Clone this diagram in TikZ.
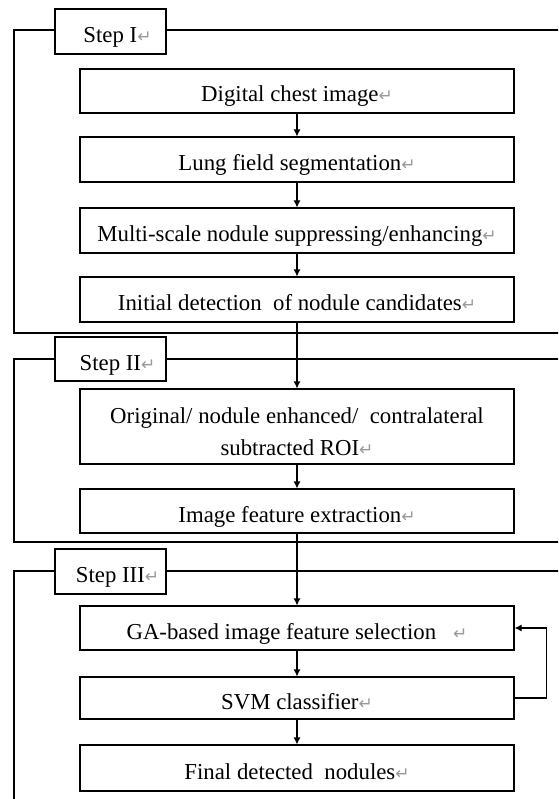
\documentclass[tikz,border=0pt]{standalone}
\usepackage{fontspec}
\setmainfont{Liberation Serif}
\newfontfamily\marksfont{DejaVu Sans}
\usetikzlibrary{arrows.meta}
% paragraph mark shown after each label
\newcommand\pmark{{\marksfont\color{black!40}\fontsize{17}{17}\selectfont\char"21B5}}
\begin{document}
\begin{tikzpicture}[x=1pt,y=-1pt,line width=1.1pt,
  lbl/.style={font=\fontsize{22.8}{32}\selectfont, inner sep=0pt},
  box/.style={lbl, draw, fill=white, minimum width=434pt, minimum height=45pt,
    text height=22pt, text depth=0pt},
  stepbox/.style={lbl, draw, fill=white, minimum width=111pt, minimum height=45pt,
    text height=22pt, text depth=0pt},
  flow/.style={-{Latex[length=7pt,width=7pt]}}]
\useasboundingbox (0,0) rectangle (558,799);

% frames of the three steps, open towards the right edge
\begin{scope}
  \clip (0,0) rectangle (558,799);
  \draw (14,30) rectangle (600,333);
  \draw (14,359) rectangle (600,542);
  \draw (14,571) rectangle (600,850);
\end{scope}

% step headings
\node[stepbox] (s1) at (110.5,31.5) {\hspace*{14pt}Step I\pmark};
\node[stepbox, minimum height=44pt] (s2) at (110.5,359) {\hspace*{14pt}Step II\pmark};
\node[stepbox] (s3) at (110.5,571.5) {\hspace*{14pt}Step III\pmark};

% Step I
\node[box, minimum height=44pt] (img) at (297,91) {Digital chest image\pmark};
\node[box] (lung) at (297,159.5) {Lung field segmentation\pmark};
\node[box] (msn) at (297,230.5) {Multi-scale nodule suppressing/enhancing\pmark};
\node[box] (init) at (297,299.5) {Initial detection \ of nodule candidates\pmark};

% Step II
\node[box, minimum height=75pt] (roi) at (297,426.5) {};
\node[lbl, align=center] (roitext) at ([yshift=-5pt]roi.center)
  {Original/ nodule enhanced/ \ contralateral\\subtracted ROI\pmark};
\node[box, minimum height=44pt] (feat) at (297,511) {Image feature extraction\pmark};

% Step III
\node[box, minimum height=44pt] (ga) at (297,628) {GA-based image feature selection \ \ \pmark};
\node[box, minimum height=42pt] (svm) at (297,698) {SVM classifier\pmark};
\node[box, minimum height=46pt] (final) at (297,768) {Final detected \ nodules\pmark};

% flow
\draw[flow] (img) -- (lung);
\draw[flow] (lung) -- (msn);
\draw[flow] (msn) -- (init);
\draw[flow] (init) -- (roi);
\draw[flow] (roi) -- (feat);
\draw[flow] (feat) -- (ga);
\draw[flow] (ga) -- (svm);
\draw[flow] (svm) -- (final);
\draw[flow] (svm.east) -- ++(32,0) |- (ga.east);
\end{tikzpicture}
\end{document}
